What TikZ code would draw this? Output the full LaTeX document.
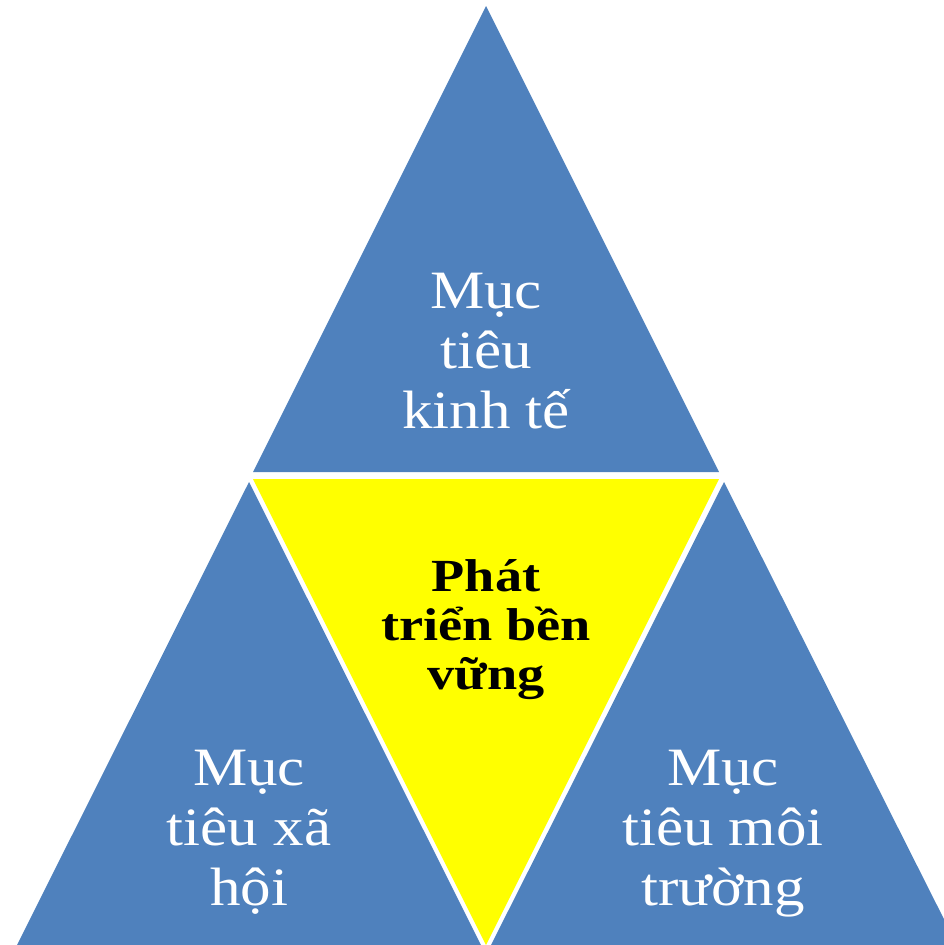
\documentclass[tikz,border=0pt]{standalone}
\usepackage{fontspec}
\setmainfont[FakeStretch=1.13]{Liberation Serif}
\newfontfamily\boldstretch[FakeStretch=1.18]{Liberation Serif}
\definecolor{tblue}{HTML}{4F81BD}
\definecolor{tyellow}{HTML}{FFFF00}
\begin{document}
\begin{tikzpicture}[x=1pt,y=-1pt,
  bluetri/.style={fill=tblue,draw=none},
  yellowtri/.style={fill=tyellow,draw=none},
  bluetext/.style={text=white,align=center,inner sep=0pt,anchor=base,font=\fontsize{54}{60}\selectfont},
  yellowtext/.style={text=black,align=center,inner sep=0pt,anchor=base,font=\boldstretch\fontsize{46}{49}\selectfont\bfseries}]
\useasboundingbox (0,0) rectangle (944,945);
\clip (0,0) rectangle (944,945);
\fill[bluetri] (486,6) -- (253,472) -- (719,472) -- cycle;
\fill[yellowtri] (253,479) -- (719,479) -- (486,945) -- cycle;
\fill[bluetri] (249,482) -- (17,945) -- (481,945) -- cycle;
\fill[bluetri] (724,482) -- (491,945) -- (957,945) -- cycle;
\node[bluetext] (top) at (486,428) {Mục\\tiêu\\kinh tế};
\node[yellowtext] (mid) at (486,689) {Phát\\triển bền\\vững};
\node[bluetext] (left) at (249,905) {Mục\\tiêu xã\\hội};
\node[bluetext] (right) at (723,905) {Mục\\tiêu môi\\trường};
\end{tikzpicture}
\end{document}
